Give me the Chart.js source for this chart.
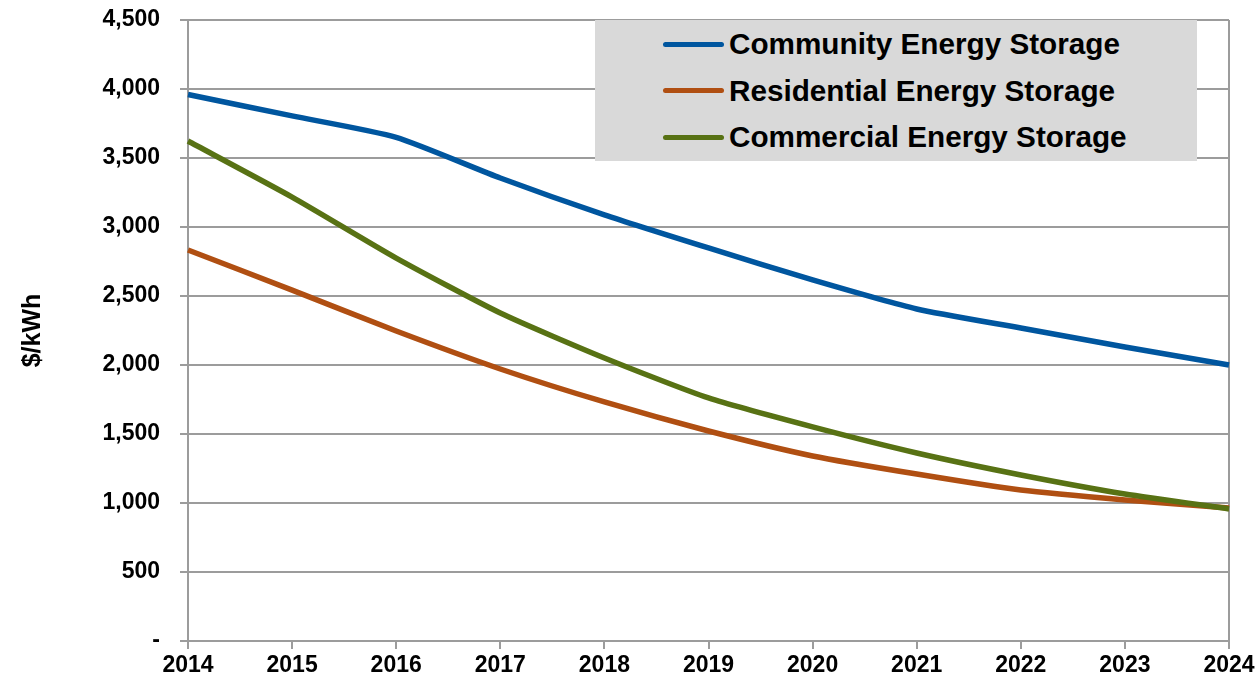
<!DOCTYPE html>
<html>
<head>
    <title>Energy Storage Cost</title>
    <script src="https://cdn.jsdelivr.net/npm/chart.js"></script>
    <style>
        body { margin: 0; background: #fff; }
        #wrap { position: relative; width: 1260px; height: 681px; }
        #legend {
            position: absolute; left: 595px; top: 20px; width: 602px; height: 141px;
            background: #d9d9d9; font-family: "Liberation Sans", Arial, sans-serif;
            font-weight: bold; font-size: 29.7px; color: #000;
        }
        .row { position: absolute; left: 68px; height: 34px; display: flex; align-items: center; white-space: nowrap; }
        .swatch { width: 61px; height: 5px; border-radius: 3px; margin-right: 5px; }
    </style>
</head>
<body>
<div id="wrap">
    <canvas id="costChart" width="1260" height="681"></canvas>
    <div id="legend"></div>
</div>
<script>
    const years = ['2014', '2015', '2016', '2017', '2018', '2019', '2020', '2021', '2022', '2023', '2024'];
    const community = [3960, 3805, 3650, 3355, 3088, 2848, 2616, 2406, 2268, 2130, 2000];
    const residential = [2833, 2543, 2246, 1971, 1732, 1522, 1341, 1210, 1094, 1022, 964];
    const commercial = [3623, 3217, 2775, 2377, 2051, 1761, 1551, 1362, 1203, 1065, 957];
    const yTicks = [0, 500, 1000, 1500, 2000, 2500, 3000, 3500, 4000, 4500];

    const series = [
        { label: 'Community Energy Storage', data: community, color: '#00569f', order: 2 },
        { label: 'Residential Energy Storage', data: residential, color: '#b04f12', order: 1 },
        { label: 'Commercial Energy Storage', data: commercial, color: '#587214', order: 0 }
    ];

    const legend = document.getElementById('legend');
    series.forEach((s, i) => {
        const row = document.createElement('div');
        row.className = 'row';
        row.style.top = (7 + i * 46.7) + 'px';
        row.innerHTML = '<span class="swatch" style="background:' + s.color + '"></span>' + s.label;
        legend.appendChild(row);
    });

    const gridGray = '#9c9c9c';
    const tickFont = { family: '"Liberation Sans", Arial, sans-serif', size: 23, weight: 'bold' };

    new Chart(document.getElementById('costChart'), {
        type: 'line',
        data: {
            labels: years,
            datasets: series.map(s => ({
                label: s.label,
                data: s.data,
                borderColor: s.color,
                backgroundColor: s.color,
                borderWidth: 5.5,
                pointRadius: 0,
                tension: 0.2,
                order: s.order
            }))
        },
        options: {
            responsive: false,
            animation: false,
            layout: { padding: { top: 20, right: 31, left: 0, bottom: 0 } },
            plugins: { legend: { display: false }, tooltip: { enabled: false } },
            scales: {
                x: {
                    afterFit: scale => { scale.height = 40; scale.paddingLeft = 0; scale.paddingRight = 0; },
                    grid: {
                        color: ctx => ctx.index === years.length - 1 ? gridGray : 'transparent',
                        tickColor: gridGray,
                        lineWidth: 2,
                        tickLength: 8,
                        offset: false
                    },
                    border: { color: gridGray, width: 2 },
                    ticks: { color: '#000', font: tickFont, padding: 3, maxRotation: 0 }
                },
                y: {
                    min: 0,
                    max: 4500,
                    afterFit: scale => { scale.width = 188; scale.paddingTop = 0; scale.paddingBottom = 0; },
                    afterBuildTicks: scale => { scale.ticks = yTicks.map(v => ({ value: v })); },
                    grid: { color: gridGray, lineWidth: 2, tickLength: 8, tickColor: gridGray },
                    border: { color: gridGray, width: 2 },
                    ticks: {
                        color: '#000',
                        font: tickFont,
                        padding: 20,
                        callback: v => v === 0 ? '-' : v.toLocaleString('en-US')
                    },
                    title: {
                        display: true,
                        text: '$/kWh',
                        color: '#000',
                        font: { family: '"Liberation Sans", Arial, sans-serif', size: 25, weight: 'bold' },
                        padding: { top: 18, bottom: 0 }
                    }
                }
            }
        }
    });
</script>
</body>
</html>
